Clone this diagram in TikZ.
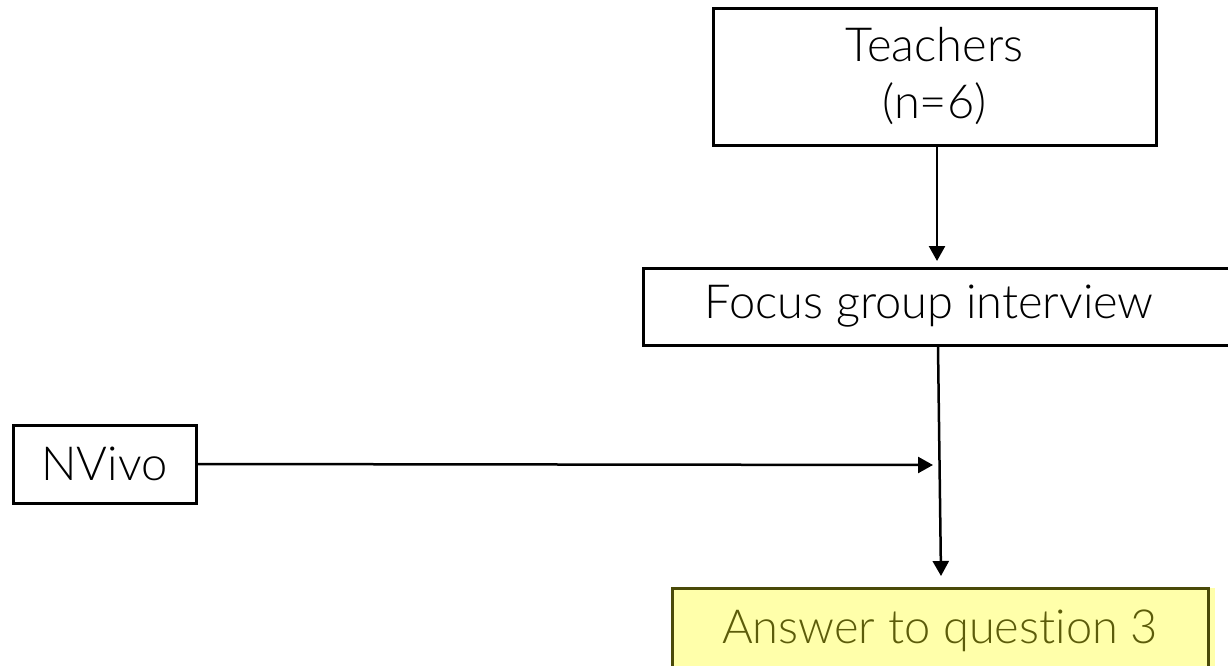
\documentclass[tikz,border=0pt]{standalone}
\usepackage{fontspec}
\setmainfont{Lato Light}[Ligatures={NoCommon}]
\usetikzlibrary{arrows.meta}
\definecolor{ansfill}{HTML}{FFFFAA}
\definecolor{ansdraw}{HTML}{4A4A08}
\definecolor{anstext}{HTML}{5C5C0A}
\tikzset{
  box/.style={draw=black, line width=3pt, inner sep=0pt, align=center,
    font=\fontsize{47}{57}\selectfont},
  conn/.style={line width=2.5pt, -{Triangle[width=16pt,length=15pt]}},
}
\begin{document}
\begin{tikzpicture}[x=1pt,y=-1pt]
\useasboundingbox (0,0) rectangle (1228,665);
\clip (0,0) rectangle (1228,665);
\node[box, minimum width=443pt, minimum height=137pt] (teachers) at (934.5,76.5) {Teachers\\(n=6)};
\node[box, minimum width=597pt, minimum height=77pt] (focus) at (941.5,306.5) {\hspace*{-25pt}Focus group interview};
\node[box, minimum width=183pt, minimum height=78pt] (nvivo) at (104.5,464) {NVivo};
\fill[ansfill] (672,588) rectangle (1215,680);
\node[box, draw=ansdraw, text=anstext, minimum width=536pt, minimum height=85pt] (answer) at (940,630.5) {Answer to question 3};
\coordinate (t1) at (937,145);
\coordinate (t2) at (937,261);
\coordinate (f1) at (938,345);
\coordinate (f2) at (941,576);
\coordinate (n2) at (933,465);
\draw[conn] (teachers.south -| t1) -- (t2);
\draw[conn] (focus.south -| f1) -- (f2);
\draw[conn] (nvivo.east) -- (n2);
\end{tikzpicture}
\end{document}
